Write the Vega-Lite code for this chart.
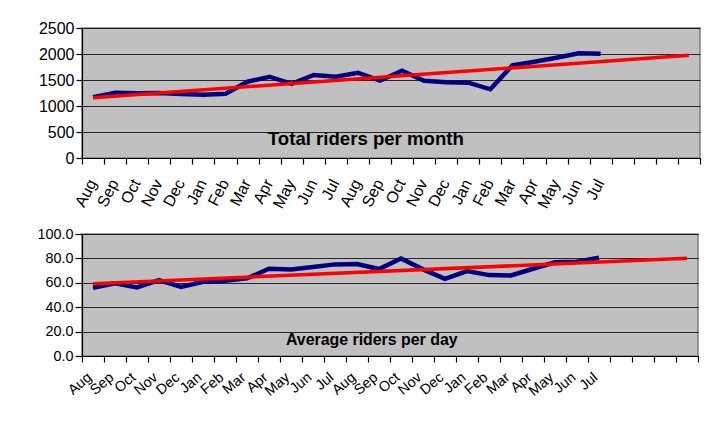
{
  "$schema": "https://vega.github.io/schema/vega-lite/v6.json",
  "padding": {"left": 36, "top": 19, "right": 5, "bottom": 5},
  "background": "white",
  "spacing": 76,
  "bounds": "flush",
  "config": {
    "font": "Liberation Sans",
    "view": {"fill": "#C0C0C0", "stroke": "#808080", "strokeWidth": 1.5},
    "axis": {"labelFont": "Liberation Sans", "labelColor": "#000000", "domainColor": "#000000", "tickColor": "#000000", "gridColor": "#000000", "gridOpacity": 0.8, "domainWidth": 1.2, "tickWidth": 1.2, "labelOverlap": false, "labelBound": false, "labelFlush": false}
  },
  "datasets": {
    "total": [
      {"idx": 1, "month": "Aug", "v": 1170},
      {"idx": 2, "month": "Sep", "v": 1255},
      {"idx": 3, "month": "Oct", "v": 1245},
      {"idx": 4, "month": "Nov", "v": 1250},
      {"idx": 5, "month": "Dec", "v": 1230},
      {"idx": 6, "month": "Jan", "v": 1215},
      {"idx": 7, "month": "Feb", "v": 1235},
      {"idx": 8, "month": "Mar", "v": 1467},
      {"idx": 9, "month": "Apr", "v": 1563},
      {"idx": 10, "month": "May", "v": 1425},
      {"idx": 11, "month": "Jun", "v": 1596},
      {"idx": 12, "month": "Jul", "v": 1563},
      {"idx": 13, "month": "Aug", "v": 1640},
      {"idx": 14, "month": "Sep", "v": 1487},
      {"idx": 15, "month": "Oct", "v": 1679},
      {"idx": 16, "month": "Nov", "v": 1487},
      {"idx": 17, "month": "Dec", "v": 1455},
      {"idx": 18, "month": "Jan", "v": 1448},
      {"idx": 19, "month": "Feb", "v": 1321},
      {"idx": 20, "month": "Mar", "v": 1782},
      {"idx": 21, "month": "Apr", "v": 1852},
      {"idx": 22, "month": "May", "v": 1929},
      {"idx": 23, "month": "Jun", "v": 2013},
      {"idx": 24, "month": "Jul", "v": 2006}
    ],
    "totalTrend": [
      {"idx": 1, "v": 1160},
      {"idx": 28, "v": 1975}
    ],
    "totalTitle": [
      {"idx": 13.36, "v": 365, "label": "Total riders per month"}
    ],
    "avg": [
      {"idx": 1, "month": "Aug", "v": 55.9},
      {"idx": 2, "month": "Sep", "v": 59.5},
      {"idx": 3, "month": "Oct", "v": 56.2},
      {"idx": 4, "month": "Nov", "v": 62.2},
      {"idx": 5, "month": "Dec", "v": 56.7},
      {"idx": 6, "month": "Jan", "v": 60.8},
      {"idx": 7, "month": "Feb", "v": 61.6},
      {"idx": 8, "month": "Mar", "v": 63.6},
      {"idx": 9, "month": "Apr", "v": 71.5},
      {"idx": 10, "month": "May", "v": 71.0},
      {"idx": 11, "month": "Jun", "v": 72.9},
      {"idx": 12, "month": "Jul", "v": 75.1},
      {"idx": 13, "month": "Aug", "v": 75.4},
      {"idx": 14, "month": "Sep", "v": 71.3},
      {"idx": 15, "month": "Oct", "v": 80.0},
      {"idx": 16, "month": "Nov", "v": 71.0},
      {"idx": 17, "month": "Dec", "v": 63.3},
      {"idx": 18, "month": "Jan", "v": 69.6},
      {"idx": 19, "month": "Feb", "v": 66.3},
      {"idx": 20, "month": "Mar", "v": 66.0},
      {"idx": 21, "month": "Apr", "v": 71.5},
      {"idx": 22, "month": "May", "v": 76.8},
      {"idx": 23, "month": "Jun", "v": 77.3},
      {"idx": 24, "month": "Jul", "v": 80.6}
    ],
    "avgTrend": [
      {"idx": 1, "v": 59.2},
      {"idx": 28, "v": 80.1}
    ],
    "avgTitle": [
      {"idx": 13.67, "v": 13.5, "label": "Average riders per day"}
    ]
  },
  "vconcat": [
    {
      "width": 618,
      "height": 130,
      "encoding": {
        "y": {"field": "v", "type": "quantitative", "title": null,
          "scale": {"domain": [0, 2500], "nice": false},
          "axis": {"values": [0, 500, 1000, 1500, 2000, 2500], "grid": true, "labelFontSize": 16, "tickSize": 6, "labelPadding": 2, "format": "d"}}
      },
      "layer": [
        {
          "data": {"name": "total"},
          "mark": {"type": "line", "color": "#000080", "strokeWidth": 4.5, "strokeJoin": "miter"},
          "encoding": {
            "x": {"field": "idx", "type": "quantitative", "title": null,
              "scale": {"domain": [0.5, 28.5], "nice": false, "zero": false},
              "axis": {"values": [1,2,3,4,5,6,7,8,9,10,11,12,13,14,15,16,17,18,19,20,21,22,23,24], "ticks": false, "domain": false, "grid": false, "labelAngle": -63, "labelFontSize": 16, "labelPadding": 22, "labelOffset": -1, "labelExpr": "['Aug','Sep','Oct','Nov','Dec','Jan','Feb','Mar','Apr','May','Jun','Jul'][(datum.value-1)%12]"}}
          }
        },
        {
          "data": {"name": "totalTrend"},
          "mark": {"type": "line", "color": "#FF0000", "strokeWidth": 3.5},
          "encoding": {
            "x": {"field": "idx", "type": "quantitative", "title": null,
              "axis": {"orient": "bottom", "values": [0.5,1.5,2.5,3.5,4.5,5.5,6.5,7.5,8.5,9.5,10.5,11.5,12.5,13.5,14.5,15.5,16.5,17.5,18.5,19.5,20.5,21.5,22.5,23.5,24.5,25.5,26.5,27.5,28.5], "labels": false, "grid": false, "ticks": true, "tickSize": 6, "domain": true}}
          }
        },
        {
          "data": {"name": "totalTitle"},
          "mark": {"type": "text", "fontWeight": "bold", "fontSize": 18.6, "color": "#000000", "font": "Liberation Sans"},
          "encoding": {
            "x": {"field": "idx", "type": "quantitative", "axis": null},
            "text": {"field": "label"}
          }
        }
      ],
      "resolve": {"axis": {"x": "independent"}}
    },
    {
      "width": 616,
      "height": 122,
      "encoding": {
        "y": {"field": "v", "type": "quantitative", "title": null,
          "scale": {"domain": [0, 100], "nice": false},
          "axis": {"values": [0, 20, 40, 60, 80, 100], "grid": true, "labelFontSize": 14.4, "tickSize": 7, "labelPadding": 2, "format": ".1f"}}
      },
      "layer": [
        {
          "data": {"name": "avg"},
          "mark": {"type": "line", "color": "#000080", "strokeWidth": 4.5, "strokeJoin": "miter"},
          "encoding": {
            "x": {"field": "idx", "type": "quantitative", "title": null,
              "scale": {"domain": [0.5, 28.5], "nice": false, "zero": false},
              "axis": {"values": [1,2,3,4,5,6,7,8,9,10,11,12,13,14,15,16,17,18,19,20,21,22,23,24], "ticks": false, "domain": false, "grid": false, "labelAngle": -40, "labelFontSize": 14.4, "labelPadding": 14, "labelOffset": -8, "labelExpr": "['Aug','Sep','Oct','Nov','Dec','Jan','Feb','Mar','Apr','May','Jun','Jul'][(datum.value-1)%12]"}}
          }
        },
        {
          "data": {"name": "avgTrend"},
          "mark": {"type": "line", "color": "#FF0000", "strokeWidth": 3.5},
          "encoding": {
            "x": {"field": "idx", "type": "quantitative", "title": null,
              "axis": {"orient": "bottom", "values": [0.5,1.5,2.5,3.5,4.5,5.5,6.5,7.5,8.5,9.5,10.5,11.5,12.5,13.5,14.5,15.5,16.5,17.5,18.5,19.5,20.5,21.5,22.5,23.5,24.5,25.5,26.5,27.5,28.5], "labels": false, "grid": false, "ticks": true, "tickSize": 6, "domain": true}}
          }
        },
        {
          "data": {"name": "avgTitle"},
          "mark": {"type": "text", "fontWeight": "bold", "fontSize": 15.9, "color": "#000000", "font": "Liberation Sans"},
          "encoding": {
            "x": {"field": "idx", "type": "quantitative", "axis": null},
            "text": {"field": "label"}
          }
        }
      ],
      "resolve": {"axis": {"x": "independent"}}
    }
  ]
}
